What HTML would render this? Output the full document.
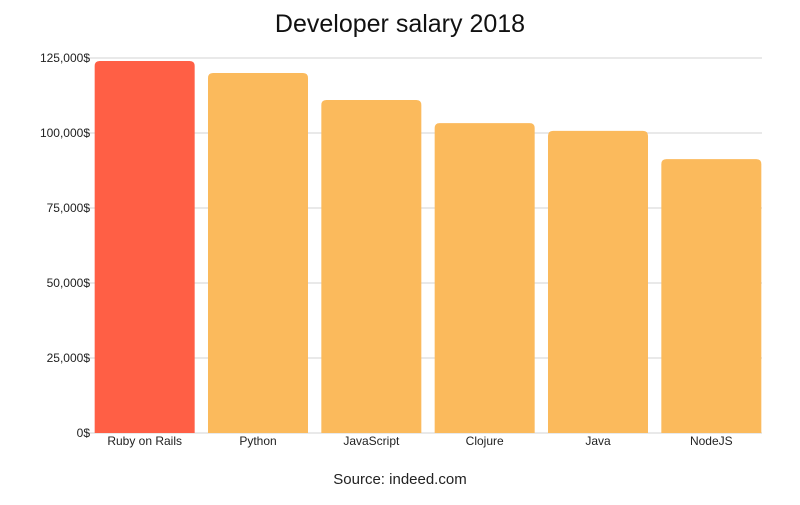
<!DOCTYPE html>
<html><head><meta charset="utf-8"><style>
body{margin:0;background:#fff;font-family:"Liberation Sans",sans-serif}
</style></head><body>
<svg id="c" width="800" height="500" xmlns="http://www.w3.org/2000/svg">
<text x="400" y="32" text-anchor="middle" font-size="25" fill="#111">Developer salary 2018</text>
<text x="400" y="484" text-anchor="middle" font-size="15" fill="#222">Source: indeed.com</text>
<g id="grid"></g><g id="bars"></g><g id="labels"></g>
</svg>
<script>
const categories=["Ruby on Rails","Python","JavaScript","Clojure","Java","NodeJS"];
const salaries=[124000,120000,111000,103300,100700,91300];
const ticks=[0,25000,50000,75000,100000,125000];
const tickLabels=["0$","25,000$","50,000$","75,000$","100,000$","125,000$"];
const ns="http://www.w3.org/2000/svg";
const x0=88,x1=768,y0=433,y1=58,maxV=125000;
const y=v=>y0-(v/maxV)*(y0-y1);
const band=(x1-x0)/categories.length;
const bx=i=>x0+band*i+(band-100)/2;
function mk(t,a,p){const e=document.createElementNS(ns,t);for(const k in a)e.setAttribute(k,a[k]);p.appendChild(e);return e;}
const g=document.getElementById('grid'),b=document.getElementById('bars'),l=document.getElementById('labels');
ticks.forEach((t,i)=>{
 const ln=mk('line',{x1:x0,x2:x1-6,y1:y(t),y2:y(t),stroke:'#e2e2e2','stroke-width':1.5},g);
 
 
 const tx=mk('text',{x:90,y:y(t)+4,'text-anchor':'end','font-size':12,fill:'#222'},g);
 tx.textContent=tickLabels[i];
 
 
});
categories.forEach((c,i)=>{
 const top=y(salaries[i]);
 const r=mk('path',{d:`M${bx(i)},${y0}V${top+5}Q${bx(i)},${top} ${bx(i)+5},${top}H${bx(i)+95}Q${bx(i)+100},${top} ${bx(i)+100},${top+5}V${y0}Z`,fill:i===0?'#ff5f45':'#fbba5c'},b);
 
 
 const tx=mk('text',{x:bx(i)+50,y:445,'text-anchor':'middle','font-size':12,fill:'#222'},l);
 tx.textContent=c;
 
 
});
</script>
</body></html>
